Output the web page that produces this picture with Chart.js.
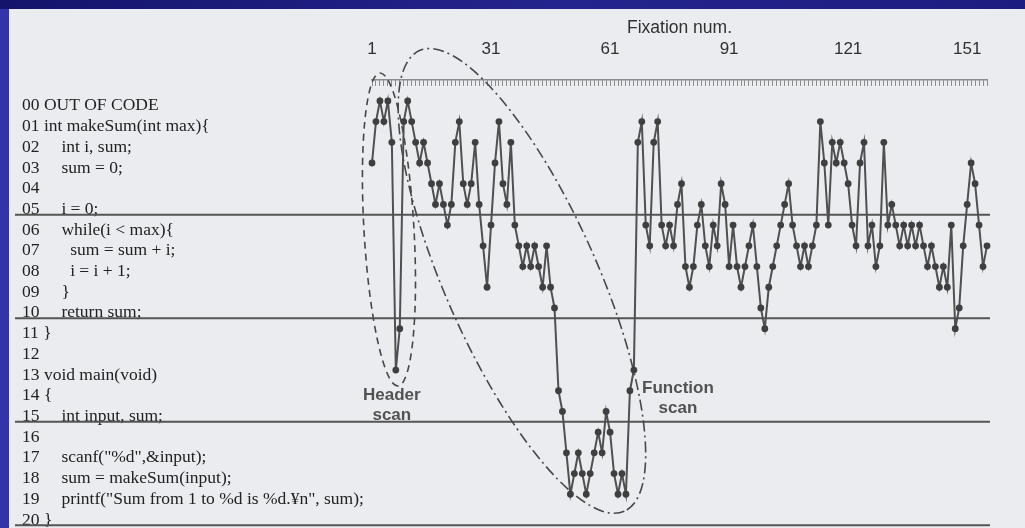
<!DOCTYPE html>
<html><head><meta charset="utf-8">
<script src="https://cdn.jsdelivr.net/npm/chart.js@4.4.1/dist/chart.umd.min.js"></script>
<style>
html,body{margin:0;padding:0;width:1025px;height:528px;overflow:hidden;background:#3434aa;}
#paper{position:absolute;left:9px;top:9px;width:1016px;height:519px;background:#eaecf0;}
#topband{position:absolute;left:0;top:0;width:1025px;height:9px;background:linear-gradient(90deg,#14146c,#24248e 55%,#1c1c80);}
#wrap{position:absolute;left:0;top:0;width:1025px;height:528px;}
</style></head><body>
<div id="paper"></div><div id="topband"></div>
<div id="wrap"><canvas id="c" width="1025" height="528"></canvas></div>
<script>
// ---- data ----
const codeLines = [
  '00 OUT OF CODE',
  '01 int makeSum(int max){',
  '02     int i, sum;',
  '03     sum = 0;',
  '04',
  '05     i = 0;',
  '06     while(i < max){',
  '07       sum = sum + i;',
  '08       i = i + 1;',
  '09     }',
  '10     return sum;',
  '11 }',
  '12',
  '13 void main(void)',
  '14 {',
  '15     int input, sum;',
  '16',
  '17     scanf("%d",&input);',
  '18     sum = makeSum(input);',
  '19     printf("Sum from 1 to %d is %d.\u00A5n", sum);',
  '20 }'
];
// code line gazed at, for fixation 1, 2, 3, ...
const gazeLine = [
  3,1,0,1,0,2,13,11,1,0,
  1,2,3,2,3,4,5,4,5,6,
  5,2,1,4,5,4,2,5,7,9,
  6,3,1,4,5,2,6,7,8,7,
  8,7,8,9,7,9,10,14,15,17,
  19,18,17,18,19,18,17,16,17,15,
  16,18,19,18,19,14,13,2,1,6,
  7,2,1,6,7,6,7,5,4,8,
  9,8,6,5,7,8,6,7,4,5,
  8,6,8,9,8,7,6,8,10,11,
  9,8,7,6,5,4,6,7,8,7,
  8,7,6,1,3,6,2,3,2,3,
  4,6,7,3,2,7,6,8,7,2,
  6,5,6,7,6,7,6,7,6,7,
  8,7,8,9,8,9,6,11,10,7,
  5,3,4,6,8,7
];
const xTickLabels = [1, 31, 61, 91, 121, 151];
const blockBoundaries = [5.5, 10.5, 15.5, 20.5];
const scanRegions = [
  {text: ['Header', 'scan'], textAt: [6.0, 14.2], from: [3.0, -1.35], to: [7.55, 13.77], half: 25, dash: [7, 5]},
  {text: ['Function', 'scan'], textAt: [78.1, 13.86], from: [12.97, -2.43], to: [64.6, 19.82], half: 76, dash: [11, 4, 2, 4]}
];

const LINE_COLOR = '#505050';

const decorations = {
  id: 'decorations',
  beforeDatasetsDraw(chart) {
    const {ctx} = chart;
    const xs = chart.scales.x, ys = chart.scales.y, yc = chart.scales.yCode;
    ctx.save();
    ctx.strokeStyle = '#555555';
    ctx.lineWidth = 2;
    blockBoundaries.forEach(b => {
      const py = ys.getPixelForValue(b);
      ctx.beginPath();
      ctx.moveTo(yc.left - 7, py);
      ctx.lineTo(xs.right + 3, py);
      ctx.stroke();
    });
    scanRegions.forEach(r => {
      const x1 = xs.getPixelForValue(r.from[0]), y1 = ys.getPixelForValue(r.from[1]);
      const x2 = xs.getPixelForValue(r.to[0]), y2 = ys.getPixelForValue(r.to[1]);
      const cx = (x1 + x2) / 2, cy = (y1 + y2) / 2;
      const a = Math.hypot(x2 - x1, y2 - y1) / 2;
      const ang = Math.atan2(y2 - y1, x2 - x1);
      ctx.beginPath();
      ctx.setLineDash(r.dash);
      ctx.lineWidth = 1.6;
      ctx.strokeStyle = '#474747';
      ctx.ellipse(cx, cy, a, r.half, ang, 0, Math.PI * 2);
      ctx.stroke();
      ctx.setLineDash([]);
      ctx.fillStyle = '#525252';
      ctx.font = 'bold 17px "Liberation Sans", Arial, sans-serif';
      ctx.textAlign = 'center';
      ctx.textBaseline = 'middle';
      const tx = xs.getPixelForValue(r.textAt[0]), ty = ys.getPixelForValue(r.textAt[1]);
      r.text.forEach((t, i) => ctx.fillText(t, tx, ty + i * 20));
    });
    ctx.restore();
  }
};

new Chart(document.getElementById('c'), {
  type: 'line',
  data: {
    datasets: [{
      data: gazeLine.map((v, i) => ({x: i + 1, y: v})),
      borderColor: LINE_COLOR,
      borderWidth: 2,
      pointRadius: 3.4,
      pointBackgroundColor: '#3f3f3f',
      pointBorderWidth: 0,
      tension: 0,
      clip: false,
      xAxisID: 'x',
      yAxisID: 'y'
    }]
  },
  options: {
    responsive: false,
    animation: false,
    events: [],
    layout: {autoPadding: false, padding: {left: 22, right: 38, top: 0, bottom: 0}},
    plugins: {legend: {display: false}, tooltip: {enabled: false}},
    scales: {
      x: {
        type: 'linear',
        position: 'top',
        min: 1,
        max: gazeLine.length,
        afterBuildTicks: s => { s.ticks = gazeLine.map((_, i) => ({value: i + 1})); },
        afterFit: s => { s.height = 80; },
        ticks: {
          autoSkip: false,
          maxRotation: 0,
          minRotation: 0,
          padding: 26.8,
          color: '#303030',
          font: {family: '"Liberation Sans", Arial, sans-serif', size: 17},
          callback: v => xTickLabels.includes(v) ? String(v) : ''
        },
        grid: {display: true, drawOnChartArea: false, drawTicks: true, tickLength: -6, color: '#8c8c8c', lineWidth: 1},
        border: {display: true, color: '#8c8c8c', width: 1.5},
        title: {
          display: true,
          text: 'Fixation num.',
          color: '#303030',
          font: {family: '"Liberation Sans", Arial, sans-serif', size: 17.5},
          padding: {top: 17.4, bottom: 0}
        }
      },
      y: {
        type: 'linear',
        display: false,
        reverse: true,
        min: -1.01,
        max: 20.63
      },
      yCode: {
        type: 'linear',
        position: 'left',
        reverse: true,
        min: -1.25,
        max: 20.39,
        afterBuildTicks: s => { s.ticks = codeLines.map((_, i) => ({value: i})); },
        afterFit: s => { s.width = 350; s.paddingTop = 0; s.paddingBottom = 0; },
        ticks: {
          autoSkip: false,
          crossAlign: 'far',
          padding: 0,
          color: '#222222',
          font: {family: '"Liberation Serif", "Times New Roman", serif', size: 17.5},
          callback: v => codeLines[v] !== undefined ? codeLines[v] : ''
        },
        grid: {display: false},
        border: {display: false}
      }
    }
  },
  plugins: [decorations]
});
</script>
</body></html>
